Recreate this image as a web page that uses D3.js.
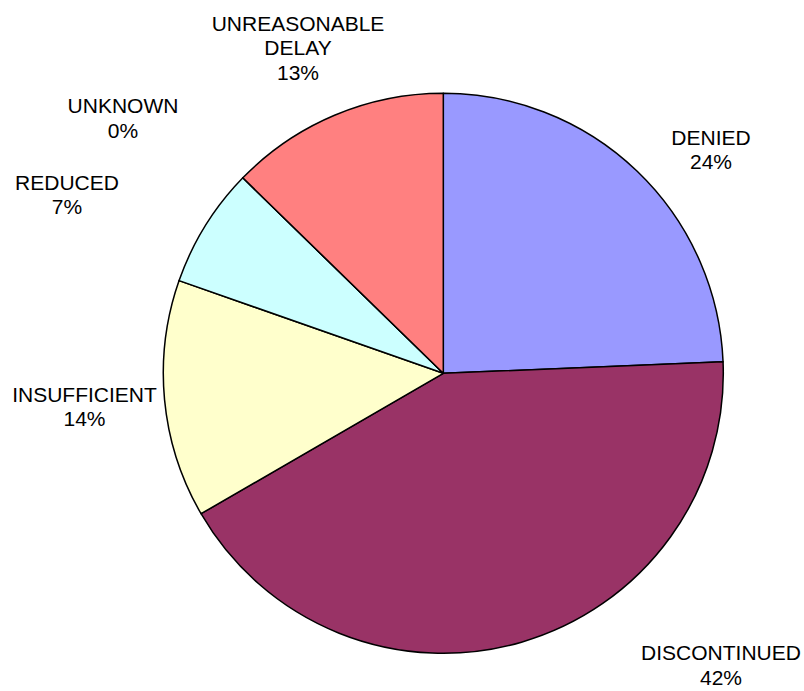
<!DOCTYPE html>
<html>
<head>
<meta charset="utf-8">
<script src="https://cdn.jsdelivr.net/npm/d3@7"></script>
<style>
  html, body { margin: 0; padding: 0; background: #fff; }
  svg { display: block; }
  text { font-family: "Liberation Sans", Arial, sans-serif; font-size: 21px; fill: #000; }
</style>
</head>
<body>
<svg id="chart" width="804" height="691"></svg>
<script>
// Data (clockwise from 12 o'clock)
const categories = ["DENIED", "DISCONTINUED", "INSUFFICIENT", "REDUCED", "UNKNOWN", "UNREASONABLE DELAY"];
const values = [24.35, 42.29, 13.73, 6.93, 0.0, 12.70];
const labelLines = [["DENIED"], ["DISCONTINUED"], ["INSUFFICIENT"], ["REDUCED"], ["UNKNOWN"], ["UNREASONABLE", "DELAY"]];
const colors = ["#9999FF", "#993366", "#FFFFCC", "#CCFFFF", "#FFFFFF", "#FF8080"];

// Layout
const cx = 443.3, cy = 373.3, radius = 280;
const lineH = 24.5;
// label first-baseline offsets relative to pie centre
const labelOffsets = [[267.7, -228.3], [277.7, 286.7], [-358.8, 28.4], [-376.3, -183.3], [-320.3, -260.3], [-145.3, -342.8]];

const svg = d3.select("#chart");
const g = svg.append("g").attr("transform", `translate(${cx},${cy})`);

const data = categories.map((c, i) => ({ name: c, value: values[i], i }));
const pie = d3.pie().value(d => d.value).sort(null);
const arc = d3.arc().innerRadius(0).outerRadius(radius);
const total = d3.sum(values);

g.selectAll("path.slice")
  .data(pie(data))
  .join("path")
  .attr("class", "slice")
  .attr("d", arc)
  .attr("fill", d => colors[d.data.i])
  .attr("stroke", "#000")
  .attr("stroke-width", 1.5)
  .attr("stroke-linejoin", "round");

const fmt = v => Math.round(v / total * 100) + "%";

const labels = g.selectAll("text.lbl")
  .data(data)
  .join("text")
  .attr("class", "lbl")
  .attr("text-anchor", "middle")
  .attr("transform", d => `translate(${labelOffsets[d.i][0]},${labelOffsets[d.i][1]})`);

labels.each(function(d) {
  const t = d3.select(this);
  const lines = labelLines[d.i].concat([fmt(d.value)]);
  lines.forEach((ln, k) => {
    t.append("tspan").attr("x", 0).attr("y", k * lineH).text(ln);
  });
});
</script>
</body>
</html>
